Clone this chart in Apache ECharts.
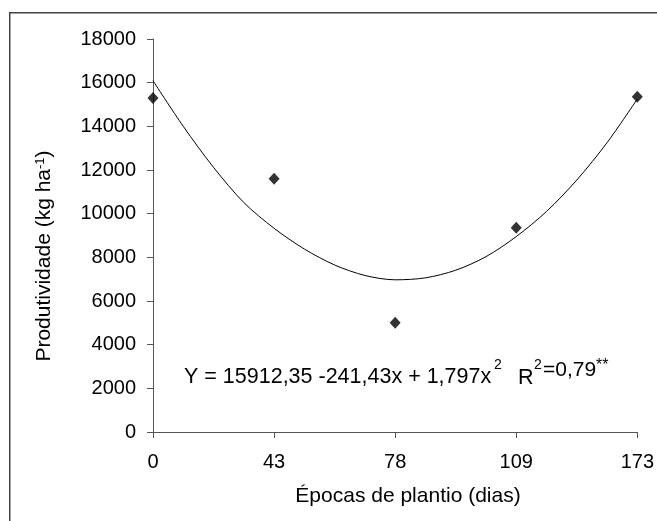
<!DOCTYPE html>
<html>
<head>
<meta charset="utf-8">
<script src="https://cdn.jsdelivr.net/npm/echarts@6/dist/echarts.min.js"></script>
<style>
html,body{margin:0;padding:0;background:#fff;}
#chart{width:657px;height:521px;}
</style>
</head>
<body>
<div id="chart"></div>
<script>
// Categories (planting dates, days) shown at evenly spaced positions
var categories = ['0', '43', '78', '109', '173'];
var categoryPos = [0, 1, 2, 3, 4];
// Observed yields (kg ha-1)
var yields = [15300, 11600, 5000, 9350, 15360];
// Trend curve (position along axis, yield)
var curveX = [0, 0.25, 0.5, 0.75, 1, 1.25, 1.5, 1.75, 2, 2.25, 2.5, 2.75, 3, 3.25, 3.5, 3.75, 4];
var curveY = [16090, 14000, 12120, 10510, 9330, 8380, 7650, 7170, 6970, 7060, 7410, 8030, 8950, 10100, 11540, 13250, 15250];
// Y-axis ticks
var yMin = 0, yMax = 18000, yStep = 2000;

var FONT = "'Liberation Sans', Arial, Helvetica, sans-serif";

var scatterData = categoryPos.map(function (p, i) { return [p, yields[i]]; });
var curveData = curveX.map(function (x, i) { return [x, curveY[i]]; });

var chart = echarts.init(document.getElementById('chart'), null, {renderer: 'canvas'});
chart.setOption({
  animation: false,
  backgroundColor: '#fff',
  grid: {left: 153, right: 14, top: 39, bottom: 89, containLabel: false},
  xAxis: {
    type: 'value', min: 0, max: 4, interval: 1,
    axisLine: {show: true, lineStyle: {color: '#555', width: 1}},
    axisTick: {show: true, length: 6, lineStyle: {color: '#555', width: 1}},
    splitLine: {show: false},
    axisLabel: {
      color: '#000', fontSize: 20, fontFamily: FONT, margin: 20,
      formatter: function (v) { return categories[Math.round(v)]; }
    }
  },
  yAxis: {
    type: 'value', min: yMin, max: yMax, interval: yStep,
    axisLine: {show: true, lineStyle: {color: '#555', width: 1}},
    axisTick: {show: true, length: 6, lineStyle: {color: '#555', width: 1}},
    splitLine: {show: false},
    axisLabel: {color: '#000', fontSize: 20, fontFamily: FONT, margin: 17,
      formatter: function (v) { return String(v); }}
  },
  series: [
    {
      type: 'line', data: curveData, smooth: 0.3, showSymbol: false, symbol: 'none',
      lineStyle: {color: '#000', width: 1}, z: 2, silent: true
    },
    {
      type: 'scatter', data: scatterData, symbol: 'diamond', symbolSize: [11, 12],
      itemStyle: {color: '#000'}, z: 3
    }
  ],
  graphic: [
    {
      type: 'rect', silent: true, z: -1,
      shape: {x: 9.75, y: 12.75, width: 700, height: 600},
      style: {fill: 'none', stroke: '#444', lineWidth: 1.5}
    },
    {
      type: 'text', x: 408, y: 496,
      style: {text: 'Épocas de plantio (dias)', font: '21px ' + FONT, fill: '#000',
              textAlign: 'center', textVerticalAlign: 'middle', align: 'center', verticalAlign: 'middle'}
    },
    {
      type: 'text', x: 44, y: 256, rotation: Math.PI / 2,
      style: {
        text: '{m|Produtividade (kg ha}{s|-1}{m|)}',
        fill: '#000', textAlign: 'center', textVerticalAlign: 'middle', align: 'center', verticalAlign: 'middle',
        rich: {
          m: {font: '21px ' + FONT, fill: '#000'},
          s: {font: '13px ' + FONT, fill: '#000', verticalAlign: 'top'}
        }
      }
    },
    {
      type: 'text', x: 184, y: 377,
      style: {text: 'Y = 15912,35 -241,43x + 1,797x', font: '21.5px ' + FONT, fill: '#000',
              textAlign: 'left', textVerticalAlign: 'middle', align: 'left', verticalAlign: 'middle'}
    },
    {
      type: 'text', x: 494, y: 365,
      style: {text: '2', font: '14px ' + FONT, fill: '#000',
              textAlign: 'left', textVerticalAlign: 'middle', align: 'left', verticalAlign: 'middle'}
    },
    {
      type: 'text', x: 518, y: 378,
      style: {text: 'R', font: '21.5px ' + FONT, fill: '#000',
              textAlign: 'left', textVerticalAlign: 'middle', align: 'left', verticalAlign: 'middle'}
    },
    {
      type: 'text', x: 534, y: 365,
      style: {text: '2', font: '14px ' + FONT, fill: '#000',
              textAlign: 'left', textVerticalAlign: 'middle', align: 'left', verticalAlign: 'middle'}
    },
    {
      type: 'text', x: 543, y: 370,
      style: {text: '=0,79', font: '21px ' + FONT, fill: '#000',
              textAlign: 'left', textVerticalAlign: 'middle', align: 'left', verticalAlign: 'middle'}
    },
    {
      type: 'text', x: 596, y: 366,
      style: {text: '**', font: '16px ' + FONT, fill: '#000',
              textAlign: 'left', textVerticalAlign: 'middle', align: 'left', verticalAlign: 'middle'}
    }
  ]
});
</script>
</body>
</html>
